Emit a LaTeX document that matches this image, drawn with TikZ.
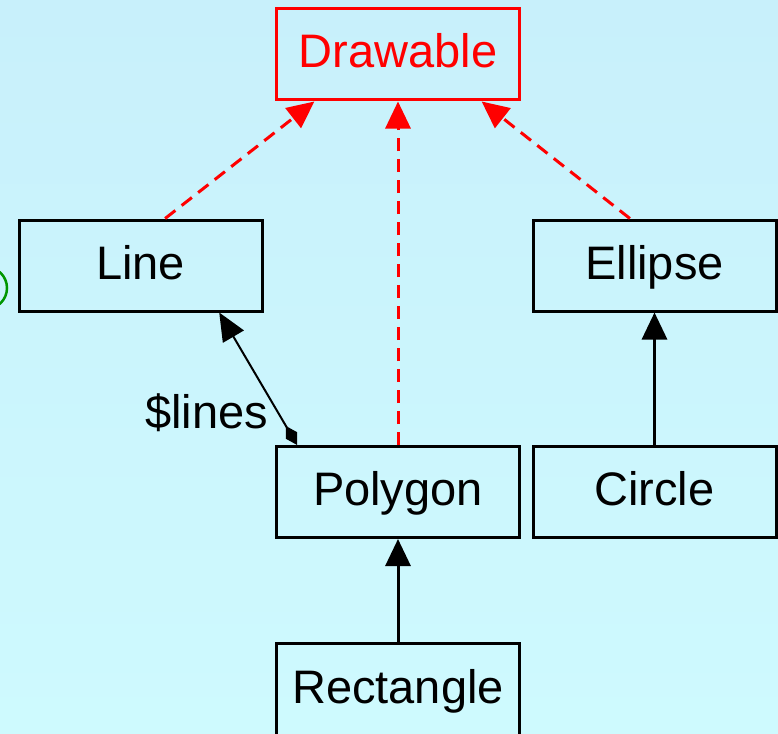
\documentclass[tikz,border=0pt]{standalone}
\usepackage{fontspec}
\setmainfont{Liberation Sans}
\usetikzlibrary{arrows.meta,calc}
\definecolor{bgtop}{RGB}{200,240,251}
\definecolor{bgbot}{RGB}{206,250,254}
\definecolor{umlgreen}{RGB}{0,150,0}
\begin{document}
\begin{tikzpicture}[x=1pt,y=-1pt,
  cls/.style={draw=black,line width=3pt,minimum width=243pt,minimum height=91pt,
    inner sep=0pt,text height=27pt,text depth=0pt,font=\fontsize{47}{50}\selectfont},
  lbl/.style={inner sep=0pt,font=\fontsize{47}{50}\selectfont},
  dep/.style={draw=red,line width=3pt,dash pattern=on 13pt off 8pt,
    -{Triangle[length=27pt,width=25pt]}},
  gen/.style={draw=black,line width=3pt,-{Triangle[length=27pt,width=25pt]}},
  agg/.style={draw=black,line width=2pt,
    {Diamond[length=22pt,width=13pt]}-{Triangle[length=28pt,width=24pt]}}]
\shade[top color=bgtop,bottom color=bgbot] (0,0) rectangle (778,733);
\useasboundingbox (0,0) rectangle (778,733);
\draw[umlgreen,line width=2.5pt] (-14,288) circle[radius=21];
\node[cls,draw=red,text=red] (drawable) at (398,54.5) {Drawable};
\node[cls] (line) at (140.5,265.5) {Line};
\node[cls] (ellipse) at (654.5,265.5) {Ellipse};
\node[cls] (polygon) at (398,492) {Polygon};
\node[cls] (circle) at (654.5,492) {Circle};
\node[cls,minimum height=110pt,text height=10pt] (rectangle) at (398,698) {Rectangle};
\draw[dep] ($(line.north west)!0.6!(line.north east)$) -- ($(drawable.south west)!0.16!(drawable.south east)$);
\draw[dep] (polygon.north) -- (drawable.south);
\draw[dep] ($(ellipse.north west)!0.4!(ellipse.north east)$) -- ($(drawable.south west)!0.84!(drawable.south east)$);
\draw[gen] (circle.north) -- (ellipse.south);
\draw[gen] (rectangle.north) -- (polygon.south);
\draw[agg] ($(polygon.north west)!0.09!(polygon.north east)$) -- ($(line.south west)!0.82!(line.south east)$);
\node[lbl,anchor=base east] (lineslabel) at (268,428) {\$lines};
\end{tikzpicture}
\end{document}
